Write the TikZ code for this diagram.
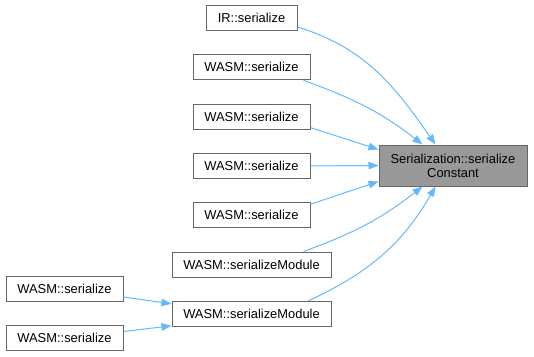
\documentclass[tikz,border=0pt]{standalone}
\usepackage{fontspec}
\setmainfont{Liberation Sans}
\usetikzlibrary{arrows.meta,calc}
\definecolor{edgeblue}{HTML}{63B8FF}
\definecolor{boxline}{HTML}{666666}
\definecolor{boxfill}{HTML}{999999}
\begin{document}
\begin{tikzpicture}[x=1pt,y=-1pt,
  fnbox/.style={draw=boxline, line width=1pt, fill=white, inner sep=0pt,
    minimum height=25pt, align=center, font=\fontsize{12.9}{14}\selectfont},
  focus/.style={fnbox, fill=boxfill, minimum height=41pt, minimum width=148pt},
  call/.style={draw=edgeblue, line width=1pt,
    -{Triangle[length=10pt,width=7.5pt,fill=edgeblue]}}]
\useasboundingbox (0,0) rectangle (534,356);

% caller nodes
\node[fnbox, minimum width=91pt]  (ir)  at (251.5,18)    {IR::serialize};
\node[fnbox, minimum width=117pt] (w2)  at (251.5,67.3)  {WASM::serialize};
\node[fnbox, minimum width=117pt] (w3)  at (251.5,116.6) {WASM::serialize};
\node[fnbox, minimum width=117pt] (w4)  at (251.5,165.9) {WASM::serialize};
\node[fnbox, minimum width=117pt] (w5)  at (251.5,215.2) {WASM::serialize};
\node[fnbox, minimum width=159pt] (sm1) at (251.5,264.5) {WASM::serializeModule};
\node[fnbox, minimum width=159pt] (sm2) at (251.5,313.8) {WASM::serializeModule};
\node[fnbox, minimum width=117pt] (la)  at (64.5,289)    {WASM::serialize};
\node[fnbox, minimum width=117pt] (lb)  at (64.5,338)    {WASM::serialize};

% the called function
\node[focus] (t) at (453,165.5) {Serialization::serialize\\Constant};

% call edges
\draw[call] ($(ir.east)+(0,9)$) to[out=-17,in=125] ($(t.north west)+(57,0)$);
\draw[call] ($(w2.south east)+(-7,0)$) to[out=-20,in=142] ($(t.north west)+(44,0)$);
\draw[call] ($(w3.east)+(0,11)$) -- ($(t.west)+(0,-16)$);
\draw[call] (w4.east) -- (t.west);
\draw[call] ($(w5.east)+(0,-11)$) -- ($(t.west)+(0,16)$);
\draw[call] ($(sm1.north east)+(-28,0)$) to[out=20,in=-142] ($(t.south west)+(44,0)$);
\draw[call] ($(sm2.north east)+(-23,0)$) to[out=25,in=-120] ($(t.south west)+(57,0)$);
\draw[call] ($(la.east)+(0,8)$) -- ($(sm2.west)+(0,-10)$);
\draw[call] ($(lb.east)+(0,-6.5)$) -- ($(sm2.west)+(0,12)$);
\end{tikzpicture}
\end{document}
